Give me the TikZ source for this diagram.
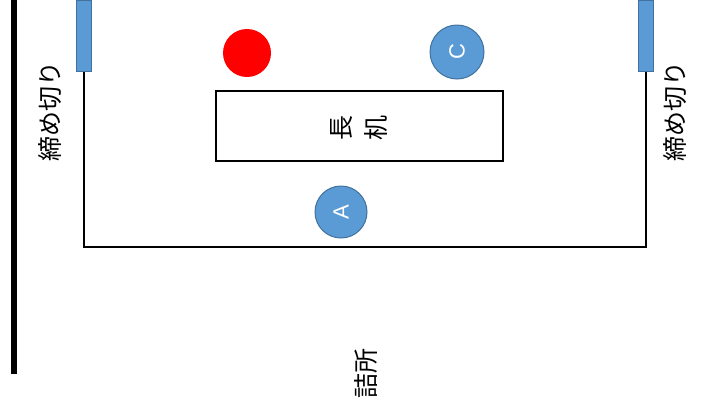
\documentclass[tikz,border=0pt]{standalone}
\usepackage{fontspec}
\setmainfont{Liberation Sans}
\newfontfamily\jp{Noto Sans CJK JP}
\definecolor{ofblue}{HTML}{5B9BD5}
\definecolor{ofborder}{HTML}{41719C}
\begin{document}
\begin{tikzpicture}[x=1pt,y=-1pt,
  wall/.style={line width=2pt},
  post/.style={draw=ofborder, fill=ofblue, line width=1pt, minimum width=15pt, minimum height=71pt, inner sep=0pt},
  seat/.style={circle, fill=ofblue, draw=ofborder, line width=1pt, inner sep=0pt, text=white, font=\fontsize{22}{22}\selectfont, rotate=90},
  jplabel/.style={font=\jp\fontsize{25}{25}\selectfont, rotate=90, inner sep=0pt}]
\useasboundingbox (0,0) rectangle (710,416);
% thick line
\coordinate (t1) at (14,0);
\coordinate (t2) at (14,374);
\draw[line width=6pt] (t1) -- (t2);
% room outline
\coordinate (tl) at (84,72);
\coordinate (bl) at (84,246.5);
\coordinate (br) at (646,246.5);
\coordinate (tr) at (646,72);
\draw[wall] (tl) -- (bl) -- (br) -- (tr);
% posts
\node[post] (pl) at (83.5,36) {};
\node[post] (pr) at (645.5,36) {};
% labels
\node[jplabel] (ll) at (50,111) {締め切り};
\node[jplabel] (lr) at (675,111) {締め切り};
% red circle
\node[circle, fill=red, minimum size=48pt, inner sep=0pt] (red) at (247,53) {};
% seats
\node[seat, minimum size=54pt] (c) at (457,52) {C};
\node[seat, minimum size=52pt] (a) at (341,212) {A};
% desk
\node[draw, line width=1.2pt, minimum width=287pt, minimum height=70pt, inner sep=0pt] (desk) at (359.5,126) {};
\node[jplabel] (d1) at (342,128) {長};
\node[jplabel] (d2) at (376,128) {机};
% station
\node[jplabel] (st) at (366,373) {詰所};
\end{tikzpicture}
\end{document}
